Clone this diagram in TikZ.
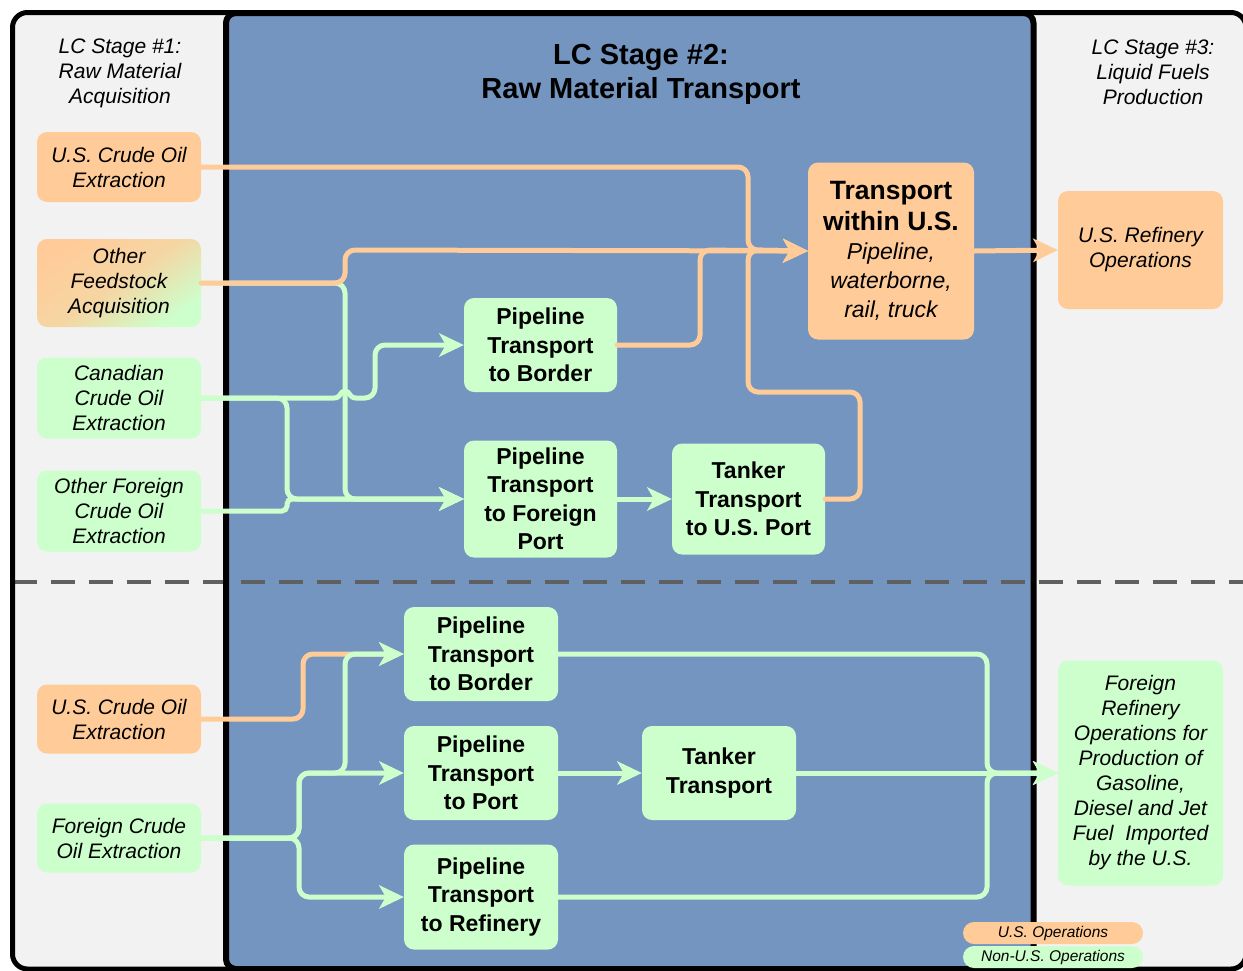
\documentclass[tikz,border=0pt]{standalone}
\usepackage{fontspec}
\setmainfont{Liberation Sans}
\usetikzlibrary{arrows.meta}
\definecolor{ocol}{HTML}{FFCC99}
\definecolor{gcol}{HTML}{CCFFCC}
\definecolor{bcol}{HTML}{7395C0}
\definecolor{pcol}{HTML}{F2F2F2}
\definecolor{dcol}{HTML}{606060}
\tikzset{
  box/.style={rectangle, rounded corners=10pt, inner sep=0pt, align=center, text=black},
  stagebox/.style={box, minimum width=164pt, font=\fontsize{21}{25}\selectfont\itshape},
  procbox/.style={box, minimum width=153pt, font=\fontsize{23}{28.5}\selectfont\bfseries},
  usfill/.style={fill=ocol},
  nusfill/.style={fill=gcol},
  hdr/.style={align=center, inner sep=0pt, font=\fontsize{21}{25}\selectfont\itshape},
  conn/.style={line width=5pt, rounded corners=10pt, line cap=round},
  oline/.style={conn, draw=ocol},
  gline/.style={conn, draw=gcol},
  arr/.style={-{Stealth[length=25pt,width=24pt,inset=7pt,line width=0pt]}},
  legbox/.style={box, rounded corners=11pt, minimum width=180pt, minimum height=22pt, font=\fontsize{15.5}{18}\selectfont\itshape}
}
\begin{document}
\begin{tikzpicture}[x=1pt,y=-1pt]
\useasboundingbox (0,0) rectangle (1243,970);
\clip (0,0) rectangle (1243,970);
\fill[white] (0,0) rectangle (1243,970);
% panels
\fill[pcol, rounded corners=15pt] (12.5,12.5) rectangle (1246,969);
\fill[bcol, rounded corners=10pt] (226,13) rectangle (1033.5,969);
\draw[dcol, line width=3.5pt, dash pattern=on 24pt off 14pt] (12.5,582) -- (1243,582);
\draw[black, line width=5pt, rounded corners=15pt] (12.5,12.5) rectangle (1246,969);
\draw[black, line width=6pt, rounded corners=10pt] (226,13) rectangle (1033.5,969);

% headers
\node[hdr] (stage1) at (120,73.5) {LC Stage \#1:\\Raw Material\\Acquisition};
\node[hdr] (stage3) at (1153,72.5) {LC Stage \#3:\\Liquid Fuels\\Production};
\node[align=center, inner sep=0pt, font=\fontsize{29}{34}\selectfont\bfseries] (title) at (641,74) {LC Stage \#2:\\Raw Material Transport};

% stage 1 nodes
\node[stagebox, usfill, minimum height=70pt] (usCrude1) at (119,167) {U.S. Crude Oil\\Extraction};
\node[stagebox, minimum height=88pt, top color=ocol, bottom color=gcol, middle color=ocol!80!gcol, shading angle=35] (otherFeed) at (119,283) {Other\\Feedstock\\Acquisition};
\node[stagebox, nusfill, minimum height=81pt] (canadian) at (119,398) {Canadian\\Crude Oil\\Extraction};
\node[stagebox, nusfill, minimum height=81pt] (otherForeign) at (119,511) {Other Foreign\\Crude Oil\\Extraction};
\node[stagebox, usfill, minimum height=69pt] (usCrude2) at (119,719) {U.S. Crude Oil\\Extraction};
\node[stagebox, nusfill, minimum height=69pt] (foreignCrude) at (119,838) {Foreign Crude\\Oil Extraction};

% stage 2 nodes
\node[procbox, nusfill, minimum height=94pt] (pipeBorder1) at (540.5,345) {Pipeline\\Transport\\to Border};
\node[procbox, nusfill, minimum height=117pt] (pipeForeign) at (540.5,499) {Pipeline\\Transport\\to Foreign\\Port};
\node[procbox, nusfill, minimum height=111pt] (tankerUS) at (748.5,499) {Tanker\\Transport\\to U.S. Port};
\node[box, usfill, minimum width=166pt, minimum height=177pt, text width=166pt] (transUS) at (891,251) {\fontsize{26.5}{31}\selectfont\bfseries\spaceskip=7.6pt\xspaceskip=7.6pt Transport\\within U.S.\par\fontsize{23}{29}\selectfont\mdseries\itshape\spaceskip=6.6pt\xspaceskip=6.6pt Pipeline,\\waterborne,\\rail, truck\par};
\node[procbox, nusfill, minimum width=154pt, minimum height=94pt] (pipeBorder2) at (481,654) {Pipeline\\Transport\\to Border};
\node[procbox, nusfill, minimum width=154pt, minimum height=94pt] (pipePort) at (481,773) {Pipeline\\Transport\\to Port};
\node[procbox, nusfill, minimum width=154pt, minimum height=94pt] (tankerT) at (719,773) {Tanker\\Transport};
\node[procbox, nusfill, minimum width=154pt, minimum height=105pt] (pipeRefinery) at (481,897) {Pipeline\\Transport\\to Refinery};

% stage 3 nodes
\node[stagebox, usfill, minimum width=165pt, minimum height=118pt] (usRefinery) at (1140.5,250) {U.S. Refinery\\Operations};
\node[stagebox, nusfill, minimum width=165pt, minimum height=225pt] (foreignRef) at (1140.5,773) {Foreign\\Refinery\\Operations for\\Production of\\Gasoline,\\Diesel and Jet\\Fuel\ \ Imported\\by the U.S.};

% connectors: upper half
\draw[gline, arr] (otherFeed.east) -- (345,283) -- (345,499) -- (pipeForeign.west);
\draw[gline, arr] (canadian.east) -- (287,398) -- (287,499) -- (pipeForeign.west);
\draw[gline, arr, rounded corners=5pt] (otherForeign.east) -- (287,511) -- (287,499) -- (pipeForeign.west);
\draw[gline, arr] (canadian.east) [sharp corners] -- (334,398) .. controls (341,398) and (340,391) .. (345,391) .. controls (350,391) and (349,398) .. (356,398) [rounded corners=10pt] -- (375,398) -- (375,345) -- (pipeBorder1.west);
\draw[gline, arr] (pipeForeign.east) -- (tankerUS.west);
\draw[oline, arr] (usCrude1.east) -- (748,167) -- (748,250) -- (transUS.west);
\draw[oline, arr] (otherFeed.east) -- (345,283) -- (345,250) -- (transUS.west);
\draw[oline, arr] (pipeBorder1.east) -- (700,345) -- (700,250) -- (transUS.west);
\draw[oline, arr] (tankerUS.east) -- (860,499) -- (860,392) -- (748,392) -- (748,250) -- (transUS.west);
\draw[oline, arr] (transUS.east) -- (usRefinery.west);

% connectors: lower half
\draw[oline, arr] (usCrude2.east) -- (303,719) -- (303,654) -- (pipeBorder2.west);
\draw[gline, arr] (foreignCrude.east) -- (299,838) -- (299,773) -- (345,773) -- (345,654) -- (pipeBorder2.west);
\draw[gline, arr] (foreignCrude.east) -- (299,838) -- (299,773) -- (pipePort.west);
\draw[gline, arr] (foreignCrude.east) -- (299,838) -- (299,897) -- (pipeRefinery.west);
\draw[gline, arr] (pipePort.east) -- (tankerT.west);
\draw[gline, arr] (pipeBorder2.east) -- (987,654) -- (987,773) -- (foreignRef.west);
\draw[gline, arr] (pipeRefinery.east) -- (987,897) -- (987,773) -- (foreignRef.west);
\draw[gline, arr] (tankerT.east) -- (foreignRef.west);

% legend
\node[legbox, usfill] (legUS) at (1053,933) {U.S. Operations};
\node[legbox, nusfill] (legNon) at (1053,957) {Non-U.S. Operations};
\end{tikzpicture}
\end{document}
